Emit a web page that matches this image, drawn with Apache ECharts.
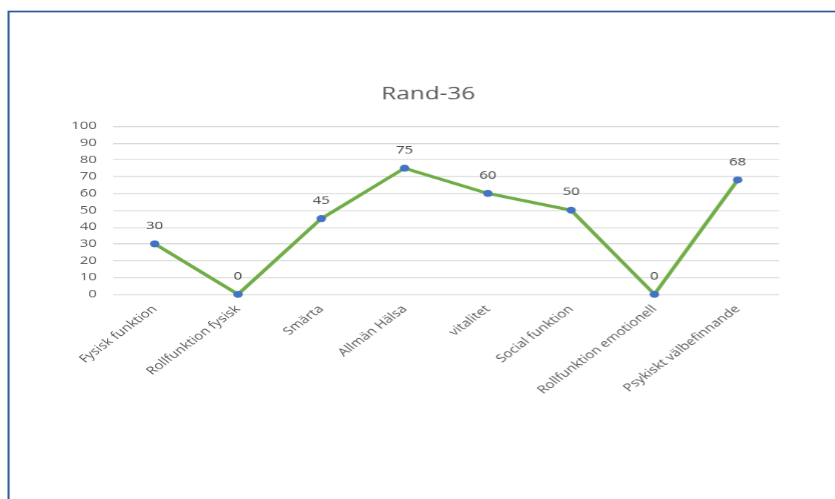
<!DOCTYPE html>
<html><head><meta charset="utf-8">
<script src="https://cdn.jsdelivr.net/npm/echarts@6/dist/echarts.min.js"></script>
<style>html,body{margin:0;padding:0;background:#fff;overflow:hidden}
#c{width:618.5px;height:499px;transform:scaleX(1.35);transform-origin:0 0}</style>
</head><body><div id="c"></div>
<script>
const categories = ["Fysisk funktion","Rollfunktion fysisk","Smärta","Allmän Hälsa","vitalitet","Social funktion","Rollfunktion emotionell","Psykiskt välbefinnande"];
const values = [30, 0, 45, 75, 60, 50, 0, 68];
const titleText = "Rand-36";
const chart = echarts.init(document.getElementById('c'), null, {devicePixelRatio: 1.35});
chart.setOption({
  animation: false,
  title: {text: titleText, left: 312, textAlign: 'center', top: 80, textStyle: {fontFamily: 'Open Sans', fontSize: 18, fontWeight: 'normal', color: '#595959'}},
  graphic: [{type: 'rect', shape: {x: 6.3, y: 11.5, width: 800, height: 600}, style: {fill: 'none', stroke: '#2f5597', lineWidth: 1.5}, silent: true}],
  grid: {left: 83.7, right: 42.2, top: 126, bottom: 205},
  xAxis: {type: 'category', data: categories, boundaryGap: true,
    axisLine: {show: false}, axisTick: {show: false},
    axisLabel: {rotate: 45, color: '#595959', fontFamily: 'Open Sans', fontSize: 11, margin: 13, interval: 0}},
  yAxis: {type: 'value', min: 0, max: 100, interval: 10,
    axisLine: {show: false}, axisTick: {show: false},
    axisLabel: {color: '#595959', fontFamily: 'Open Sans', fontSize: 11, margin: 12},
    splitLine: {lineStyle: {color: '#d9d9d9', width: 1}}},
  series: [{type: 'line', data: values, symbol: 'circle', symbolSize: 7,
    lineStyle: {color: '#70ad47', width: 3},
    itemStyle: {color: '#4472c4'},
    label: {show: true, position: 'top', distance: 9, color: '#404040', fontFamily: 'Open Sans', fontSize: 11}}]
});
</script></body></html>
